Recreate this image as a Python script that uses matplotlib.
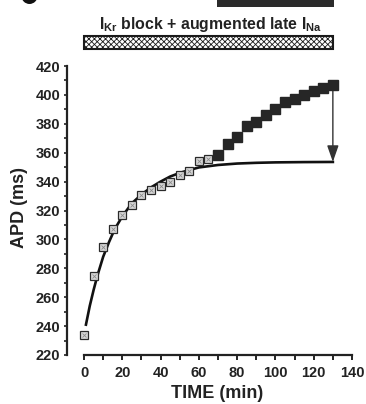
import matplotlib

matplotlib.use("Agg")
import matplotlib.pyplot as plt
from matplotlib.patches import Ellipse, Rectangle

plt.rcParams["font.family"] = ["Liberation Sans", "DejaVu Sans"]
plt.rcParams["font.weight"] = "bold"
plt.rcParams["mathtext.fontset"] = "custom"
plt.rcParams["mathtext.bf"] = "Liberation Sans:bold"
plt.rcParams["mathtext.rm"] = "Liberation Sans:bold"
plt.rcParams["hatch.linewidth"] = 0.6
plt.rcParams["hatch.color"] = "#777777"

# I_Kr block only (open squares)
time_open = [0, 5, 10, 15, 20, 25, 30, 35, 40, 45, 50, 55, 60, 65]
apd_open = [234, 274.5, 294.5, 307, 317, 324, 330.5, 334, 337, 340, 344.5, 347, 354, 355.5]

# augmented late I_Na (filled squares)
time_filled = [70, 75, 80, 85, 90, 95, 100, 105, 110, 115, 120, 125, 130]
apd_filled = [358.5, 366, 371, 378.5, 381, 386, 390.5, 395, 397.5, 400, 403, 404.5, 407]

# fitted curve
time_fit = [1, 3, 5, 7, 10, 13, 16, 20, 25, 30, 35, 40, 45, 50, 55, 60, 70, 80, 90, 100, 115, 130]
apd_fit = [241, 254, 265, 275, 288, 298, 307, 316, 325, 331, 336, 340, 343.5, 346, 348, 349.8,
           351.5, 352.5, 353, 353.3, 353.5, 353.6]

x_ticks = list(range(0, 141, 20))
y_ticks = list(range(220, 421, 20))

W, H = 366, 404
fig = plt.figure(figsize=(W / 100, H / 100), dpi=100)
ax = fig.add_axes([67 / W, (H - 355) / H, (352 - 67) / W, (355 - 66) / H])

ax.plot(time_fit, apd_fit, color="#111111", lw=1.9, zorder=2)
ax.plot(time_open, apd_open, "s", ms=5.2, mfc="#d8d8d8", mec="#2a2a2a", mew=0.9, zorder=3)
ax.plot(time_open, apd_open, "x", ms=3, mec="#8a8a8a", mew=0.6, zorder=4)
ax.plot(time_filled, apd_filled, "s", ms=6.5, mfc="#262626", mec="#262626", zorder=3)

ax.annotate(
    "",
    xy=(time_filled[-1], apd_fit[-1]),
    xytext=(time_filled[-1], apd_filled[-1] - 2),
    arrowprops=dict(arrowstyle="-|>,head_length=1.0,head_width=0.35",
                    color="#333333", lw=1.0, shrinkA=0, shrinkB=0),
    zorder=2,
)

ax.set_xlim(-8.9, 140)
ax.set_ylim(220, 420)
ax.spines[["top", "right"]].set_visible(False)
ax.spines["bottom"].set_bounds(0, 140)
ax.spines["left"].set_bounds(220, 420)
for side in ["bottom", "left"]:
    ax.spines[side].set_linewidth(1.6)
    ax.spines[side].set_color("#222222")

ax.set_xticks(x_ticks)
ax.set_xticks(range(0, 141, 10), minor=True)
ax.set_yticks(y_ticks)
ax.set_yticks(range(220, 421, 10), minor=True)
ax.tick_params(axis="x", which="both", direction="out", length=3.6, width=1.4,
               labelsize=10.5, pad=4.5, color="#222222")
ax.tick_params(axis="y", which="both", direction="out", length=2.5, width=1.2,
               labelsize=10.5, pad=2.5, color="#222222")
for label in ax.get_xticklabels() + ax.get_yticklabels():
    label.set_fontweight("bold")
    label.set_color("#222222")

fig.text(217 / W, 1 - 394 / H, "TIME (min)", ha="center", va="center",
         fontsize=13, fontweight="bold", color="#222222")
fig.text(19 / W, 1 - 208 / H, "APD (ms)", ha="center", va="center",
         rotation=90, fontsize=13, fontweight="bold", color="#222222")

# treatment bar on top
fig.patches.append(Rectangle((84 / W, 1 - 49 / H), (333 - 84) / W, 13 / H,
                             transform=fig.transFigure, facecolor="white",
                             edgecolor="#1a1a1a", lw=1.5, hatch="xxxxxx"))
fig.text(211 / W, 1 - 24 / H,
         r"$\mathbf{I_{Kr}}$ block + augmented late $\mathbf{I_{Na}}$",
         ha="center", va="center", fontsize=11.4, fontweight="bold", color="#222222")

# cropped elements at the very top
fig.patches.append(Rectangle((217 / W, 1 - 7.3 / H), (334 - 217) / W, 8 / H,
                             transform=fig.transFigure, facecolor="#2b2b2b",
                             edgecolor="none"))
fig.patches.append(Ellipse((29.5 / W, 1 + 4 / H), 16 / W, 16 / H,
                           transform=fig.transFigure, facecolor="#111111",
                           edgecolor="none"))

fig.savefig("out.png", dpi=100, facecolor="white")
